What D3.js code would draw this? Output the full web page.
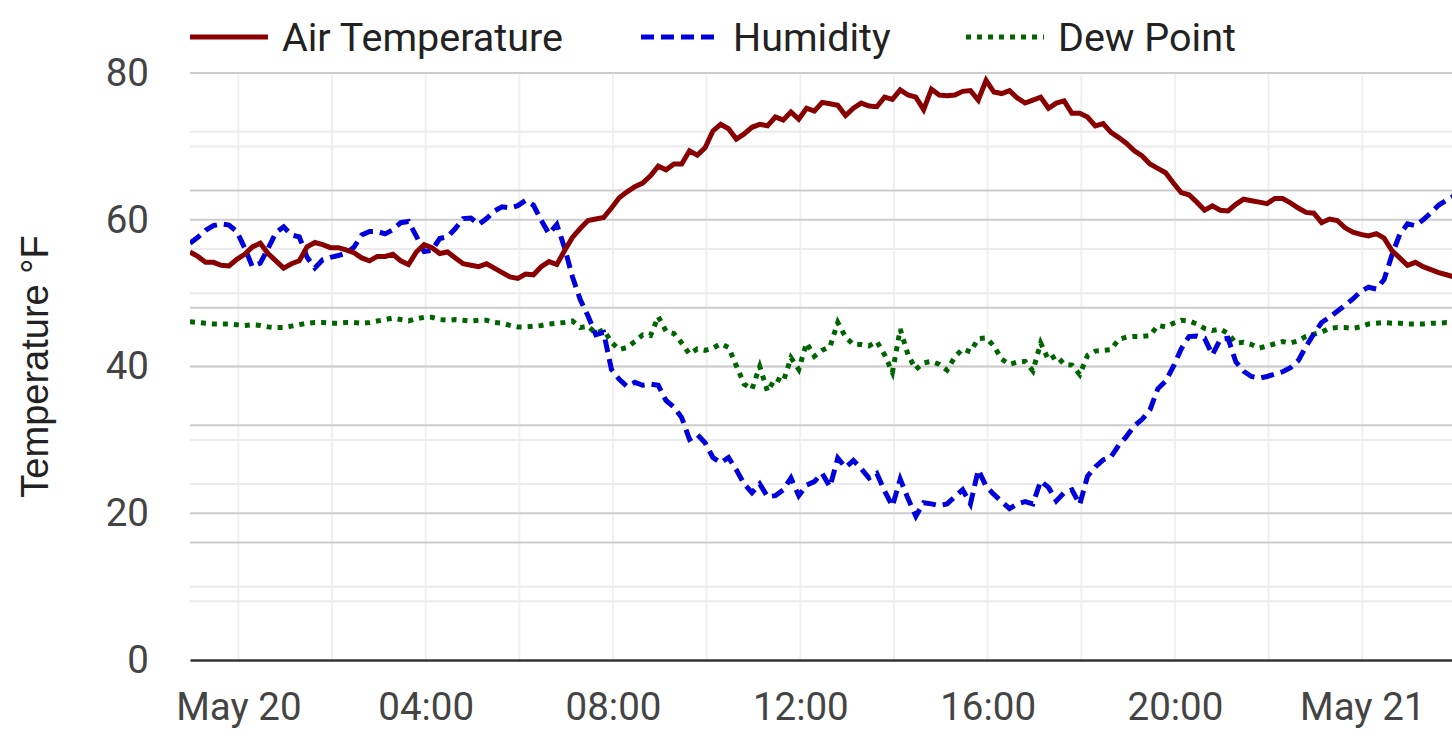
<!DOCTYPE html>
<html>
<head>
<meta charset="utf-8">
<script src="https://cdn.jsdelivr.net/npm/d3@7"></script>
<style>
  body { margin: 0; background: #fff; }
  svg { display: block; font-family: Roboto, "Noto Sans", sans-serif; }
</style>
</head>
<body>
<script>
// readings every 10 minutes, starting 22:58 on May 19
var startTime = new Date(2024, 4, 19, 22, 58);
var stepMinutes = 10;
var endTime = new Date(2024, 4, 21, 1, 55);

// air temperature, deg F
var tempF = [
  55.6, 55.0, 54.2, 54.2, 53.8, 53.7, 54.6, 55.3, 56.3, 56.8,
  55.4, 54.4, 53.4, 54.0, 54.4, 56.3, 56.9, 56.6, 56.2, 56.2,
  55.9, 55.5, 54.8, 54.4, 55.0, 55.0, 55.3, 54.4, 53.9, 55.6,
  56.6, 56.2, 55.4, 55.6, 54.8, 54.0, 53.8, 53.6, 54.0, 53.4,
  52.8, 52.2, 52.0, 52.6, 52.5, 53.6, 54.3, 53.9, 55.8, 57.6,
  58.8, 59.9, 60.1, 60.3, 61.6, 63.0, 63.8, 64.5, 65.0, 66.0,
  67.3, 66.8, 67.6, 67.6, 69.4, 68.8, 69.8, 72.1, 73.0, 72.4,
  71.0, 71.7, 72.6, 73.0, 72.8, 74.0, 73.6, 74.7, 73.7, 75.2,
  74.8, 76.0, 75.8, 75.6, 74.2, 75.2, 75.9, 75.5, 75.4, 76.7,
  76.4, 77.7, 77.0, 76.7, 75.0, 77.8, 77.0, 76.9, 77.0, 77.5,
  77.6, 76.3, 79.0, 77.4, 77.2, 77.6, 76.6, 75.9, 76.3, 76.7,
  75.2, 75.9, 76.2, 74.5, 74.5, 74.0, 72.8, 73.1, 71.9, 71.2,
  70.4, 69.4, 68.7, 67.6, 67.0, 66.4, 65.0, 63.7, 63.4, 62.4,
  61.3, 61.9, 61.3, 61.2, 62.1, 62.8, 62.6, 62.4, 62.2, 62.9,
  62.9, 62.3, 61.6, 61.0, 60.9, 59.6, 60.1, 59.9, 58.9, 58.3,
  58.0, 57.8, 58.1, 57.5, 55.8, 54.8, 53.8, 54.2, 53.6, 53.2,
  52.8, 52.5, 52.2
];

// relative humidity, percent (plotted on a hidden 0-100 axis)
var humidityPct = [
  71.0, 72.0, 73.2, 74.0, 74.3, 74.1, 73.0, 70.2, 67.0, 67.6,
  70.1, 72.8, 73.8, 72.4, 72.1, 68.6, 66.8, 68.2, 68.6, 68.9,
  69.3, 70.3, 72.4, 73.0, 73.0, 72.6, 73.3, 74.5, 74.7, 72.2,
  69.6, 69.8, 71.8, 72.1, 73.5, 75.2, 75.3, 74.2, 75.2, 76.5,
  77.2, 77.0, 77.4, 78.3, 77.5, 74.9, 72.6, 74.2, 70.2, 65.3,
  61.4, 58.6, 55.4, 55.8, 49.5, 47.8, 46.6, 47.3, 46.8, 47.0,
  46.8, 44.2, 43.1, 41.3, 37.6, 38.4, 37.0, 34.5, 33.6, 34.5,
  32.4, 30.0, 28.5, 30.0, 27.8, 28.0, 29.0, 31.0, 28.0, 29.8,
  30.4, 31.8, 29.5, 34.4, 32.8, 34.0, 32.6, 31.0, 31.8, 28.8,
  26.2, 30.8, 27.5, 24.5, 26.8, 26.6, 26.3, 26.6, 27.8, 29.0,
  26.6, 32.4, 29.6, 28.2, 27.0, 25.8, 26.6, 27.0, 26.6, 30.5,
  29.4, 27.1, 28.5, 29.0, 26.5, 31.3, 32.9, 34.1, 34.6, 36.6,
  38.1, 39.9, 41.0, 42.6, 46.2, 47.5, 50.0, 53.0, 55.1, 55.2,
  54.8, 52.0, 54.6, 54.8, 50.8, 49.2, 48.3, 48.0, 48.3, 48.7,
  49.1, 49.8, 51.0, 53.4, 55.6, 57.5, 58.4, 59.4, 60.4, 61.5,
  62.8, 63.5, 63.2, 64.8, 69.0, 72.5, 74.3, 74.0, 75.0, 76.2,
  77.5, 78.3, 79.1
];

// dew point, deg F
var dewPointF = [
  46.1, 46.0, 45.9, 45.8, 45.8, 45.8, 45.7, 45.6, 45.7, 45.6,
  45.4, 45.3, 45.3, 45.5, 45.7, 45.9, 46.0, 46.0, 45.9, 45.9,
  46.0, 46.0, 45.9, 46.0, 46.2, 46.4, 46.6, 46.4, 46.2, 46.5,
  46.7, 46.7, 46.4, 46.3, 46.4, 46.3, 46.2, 46.3, 46.3, 46.0,
  45.9, 45.6, 45.4, 45.4, 45.5, 45.6, 45.8, 45.9, 46.0, 46.2,
  45.3, 45.5, 44.5, 45.0, 43.3, 42.3, 42.6, 43.4, 44.3, 44.2,
  46.8, 44.8, 44.5, 43.2, 41.7, 42.4, 42.2, 42.5, 43.1, 42.6,
  40.1, 37.6, 36.9, 40.0, 36.6, 38.4, 37.9, 41.2, 39.6, 43.2,
  41.4, 42.2, 42.7, 46.0, 44.0, 43.0, 43.0, 42.8, 43.4, 41.6,
  39.2, 45.1, 41.6, 39.6, 40.5, 40.7, 40.3, 39.5, 41.3, 42.4,
  42.0, 43.8, 43.9, 42.8, 41.0, 40.3, 40.6, 40.7, 39.4, 43.2,
  40.9, 41.5, 40.3, 40.2, 38.9, 41.5, 42.1, 42.2, 42.3, 43.7,
  44.0, 44.1, 44.1, 44.2, 45.6, 45.4, 45.9, 46.3, 46.2, 45.8,
  45.2, 44.9, 45.1, 44.5, 43.2, 43.3, 43.0, 42.5, 42.8, 43.1,
  43.4, 43.2, 43.5, 44.1, 44.4, 44.7, 45.2, 45.3, 45.3, 45.2,
  45.4, 45.8, 45.9, 46.0, 45.9, 45.9, 45.8, 45.8, 45.8, 45.9,
  45.9, 46.0, 46.0
];

var seriesNames = ["Air Temperature", "Humidity", "Dew Point"];
var tempTicks = [0, 20, 40, 60, 80];
var tempMinor = [10, 30, 50, 70];
var humTicks = [20, 40, 60, 80];
var humMinor = [10, 30, 50, 70, 90];

function drawChart() {
  var width = 1452, height = 753;
  var margin = { top: 73, right: 0, bottom: 93, left: 190 };
  var innerW = width - margin.left - margin.right,
    innerH = height - margin.top - margin.bottom;

  var times = tempF.map(function(d, i) {
    return d3.timeMinute.offset(startTime, i * stepMinutes);
  });

  var x = d3.scaleTime().domain([startTime, endTime]).range([0, innerW]);
  var y = d3.scaleLinear().domain([0, 80]).range([innerH, 0]);
  var yHum = d3.scaleLinear().domain([0, 100]).range([innerH, 0]);

  var svg = d3
    .select("body")
    .append("svg")
    .attr("width", width)
    .attr("height", height);

  svg.append("defs")
    .append("clipPath")
    .attr("id", "plotClip")
    .append("rect")
    .attr("width", innerW)
    .attr("height", innerH + 4)
    .attr("y", -4);

  var g = svg.append("g")
    .attr("transform", "translate(" + margin.left + "," + margin.top + ")");

  // vertical grid every 2 hours
  g.append("g")
    .selectAll("line")
    .data(x.ticks(d3.timeHour.every(2)))
    .enter()
    .append("line")
    .attr("x1", function(d) { return x(d); })
    .attr("x2", function(d) { return x(d); })
    .attr("y1", 0)
    .attr("y2", innerH)
    .attr("stroke", "#f0f0f0")
    .attr("stroke-width", 2);

  // horizontal grids: minor first, then major, both axes
  function hGrid(values, scale, color) {
    g.append("g")
      .selectAll("line")
      .data(values)
      .enter()
      .append("line")
      .attr("x1", 0)
      .attr("x2", innerW)
      .attr("y1", function(d) { return scale(d); })
      .attr("y2", function(d) { return scale(d); })
      .attr("stroke", color)
      .attr("stroke-width", 2);
  }
  hGrid(tempMinor, y, "#ebebeb");
  hGrid(humMinor, yHum, "#ebebeb");
  hGrid(tempTicks.slice(1), y, "#cccccc");
  hGrid(humTicks, yHum, "#cccccc");

  // lines
  var lines = g.append("g").attr("clip-path", "url(#plotClip)");

  var tempLine = d3.line()
    .x(function(d, i) { return x(times[i]); })
    .y(function(d) { return y(d); });
  var humLine = d3.line()
    .x(function(d, i) { return x(times[i]); })
    .y(function(d) { return yHum(d); });

  lines.append("path")
    .datum(dewPointF)
    .attr("d", tempLine)
    .attr("fill", "none")
    .attr("stroke", "#006400")
    .attr("stroke-width", 5)
    .attr("stroke-dasharray", "5,6");

  lines.append("path")
    .datum(humidityPct)
    .attr("d", humLine)
    .attr("fill", "none")
    .attr("stroke", "#0000dd")
    .attr("stroke-width", 5)
    .attr("stroke-dasharray", "13,7");

  lines.append("path")
    .datum(tempF)
    .attr("d", tempLine)
    .attr("fill", "none")
    .attr("stroke", "#880000")
    .attr("stroke-width", 5);

  // x axis
  var fmtDay = d3.timeFormat("%b %d"), fmtHour = d3.timeFormat("%H:%M");
  var xAxis = g.append("g")
    .attr("transform", "translate(0," + innerH + ")")
    .call(d3.axisBottom(x)
      .ticks(d3.timeHour.every(4))
      .tickSize(0)
      .tickPadding(33)
      .tickFormat(function(d) {
        return d.getHours() === 0 ? fmtDay(d) : fmtHour(d);
      }));
  xAxis.select(".domain")
    .attr("stroke", "#333")
    .attr("stroke-width", 2.5);
  xAxis.selectAll("text")
    .attr("fill", "#444")
    .style("font-size", "38.5px")
    .style("font-family", "Roboto");

  // y axis (labels only)
  var yAxis = g.append("g")
    .call(d3.axisLeft(y).tickValues(tempTicks).tickSize(0).tickPadding(41));
  yAxis.select(".domain").remove();
  yAxis.selectAll("text")
    .attr("fill", "#444")
    .style("font-size", "38.5px")
    .style("font-family", "Roboto");

  // y title
  svg.append("text")
    .attr("transform", "translate(48," + (margin.top + innerH / 2) + ") rotate(-90)")
    .attr("text-anchor", "middle")
    .attr("fill", "#222")
    .style("font-size", "38px")
    .style("font-family", "'Liberation Sans', Arial, sans-serif")
    .text("Temperature °F");

  // legend
  var legendX = [190, 641, 966];
  var legendStyle = [
    { color: "#880000", dash: null },
    { color: "#0000dd", dash: "13,7" },
    { color: "#006400", dash: "5,6" }
  ];
  var legend = svg.selectAll(".legendItem")
    .data(seriesNames)
    .enter()
    .append("g")
    .attr("class", "legendItem")
    .attr("transform", function(d, i) { return "translate(" + legendX[i] + ",37)"; });

  legend.append("line")
    .attr("x1", 0)
    .attr("x2", 78)
    .attr("stroke", function(d, i) { return legendStyle[i].color; })
    .attr("stroke-width", 5)
    .attr("stroke-dasharray", function(d, i) { return legendStyle[i].dash; });

  legend.append("text")
    .attr("x", 92)
    .attr("dy", "0.35em")
    .attr("fill", "#222")
    .style("font-size", "39.5px")
    .text(function(d) { return d; });
}

drawChart();
</script>
</body>
</html>
